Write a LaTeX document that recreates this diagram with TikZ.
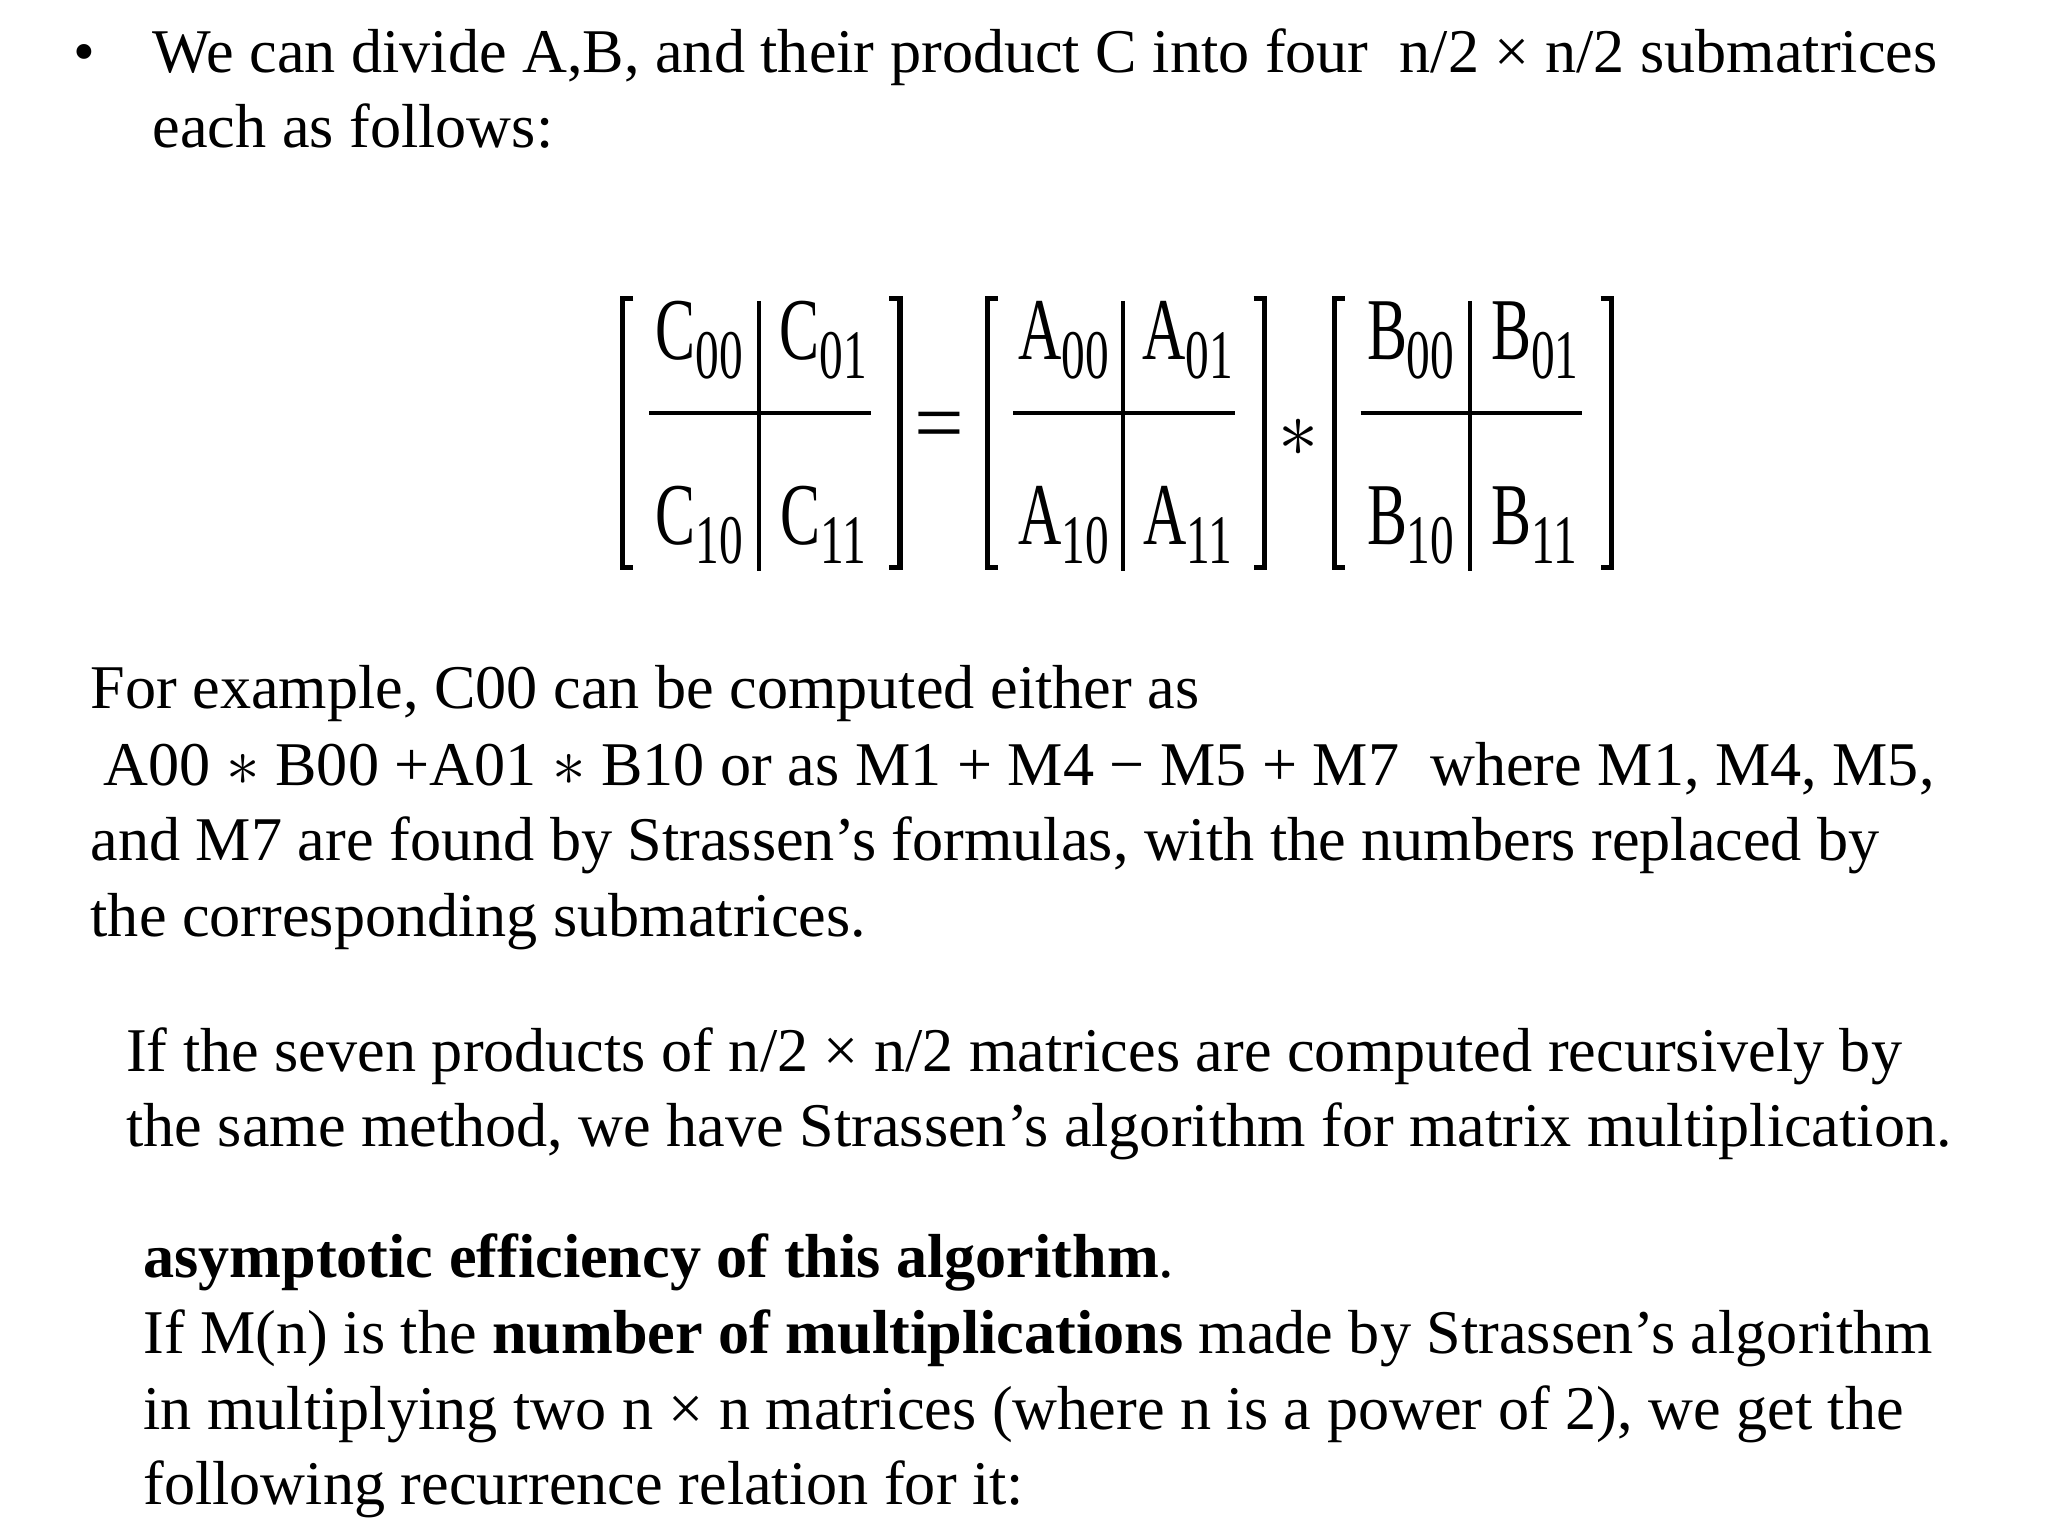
\documentclass[tikz,border=0pt]{standalone}
\usepackage{fontspec}
\setmainfont{Liberation Serif}
\begin{document}
\begin{tikzpicture}[x=0.01cm,y=-0.01cm,
  txt/.style={anchor=base west,inner sep=0pt,font=\fontsize{13.4}{16}\selectfont},
  ent/.style={inner sep=0pt,font=\fontsize{19}{20}\selectfont},
  brk/.style={line width=1.1pt},
  div/.style={line width=0.8pt}]
\useasboundingbox (0,0) rectangle (1552,1164);
\fill[white] (0,0) rectangle (1552,1164);
\node[txt] (bul) at (55,55) {•};
\node[txt] (l1) at (115,55) {We can divide A,B, and their product C into four\ \ n/2 × n/2 submatrices};
\node[txt] (l2) at (115,112) {each as follows:};
% matrices
\newcommand{\mymat}[4]{%
  \draw[brk] (#1+8,226) -- (#1,226) -- (#1,430) -- (#1+8,430);
  \draw[brk] (#1+202,226) -- (#1+210,226) -- (#1+210,430) -- (#1+202,430);
  \draw[div] (#1+103,228) -- (#1+103,433);
  \draw[div] (#1+20,313) -- (#1+188,313);
  \node[ent] (#4a) at (#1+58,258) {\scalebox{0.68}[1]{#2}\scalebox{0.68}[1]{\fontsize{15}{14}\selectfont\raisebox{-0.6ex}{00}}};
  \node[ent] (#4b) at (#1+152,258) {\scalebox{0.68}[1]{#3}\scalebox{0.68}[1]{\fontsize{15}{14}\selectfont\raisebox{-0.6ex}{01}}};
  \node[ent] (#4c) at (#1+58,398) {\scalebox{0.68}[1]{#2}\scalebox{0.68}[1]{\fontsize{15}{14}\selectfont\raisebox{-0.6ex}{10}}};
  \node[ent] (#4d) at (#1+152,398) {\scalebox{0.68}[1]{#3}\scalebox{0.68}[1]{\fontsize{15}{14}\selectfont\raisebox{-0.6ex}{11}}};
}
\mymat{472}{C}{C}{c}
\mymat{748}{A}{A}{a}
\mymat{1011}{B}{B}{b}
\node[ent] (eq) at (712,328) {=};
\node[ent] (st) at (984,332) {$*$};
\node[txt] (p1) at (68,537) {For example, C00 can be computed either as};
\node[txt] (p2) at (78,595) {A00 $*$ B00 +A01 $*$ B10 or as M1 + M4 − M5 + M7\ \ where M1, M4, M5,};
\node[txt] (p3) at (68,652) {and M7 are found by Strassen’s formulas, with the numbers replaced by};
\node[txt] (p4) at (68,710) {the corresponding submatrices.};
\node[txt] (q1) at (95,812) {If the seven products of n/2 × n/2 matrices are computed recursively by};
\node[txt] (q2) at (95,869) {the same method, we have Strassen’s algorithm for matrix multiplication.};
\node[txt] (r1) at (108,968) {\textbf{asymptotic efficiency of this algorithm}.};
\node[txt] (r2) at (108,1026) {If M(n) is the \textbf{number of multiplications} made by Strassen’s algorithm};
\node[txt] (r3) at (108,1083) {in multiplying two n × n matrices (where n is a power of 2), we get the};
\node[txt] (r4) at (108,1140) {following recurrence relation for it:};
\end{tikzpicture}
\end{document}
